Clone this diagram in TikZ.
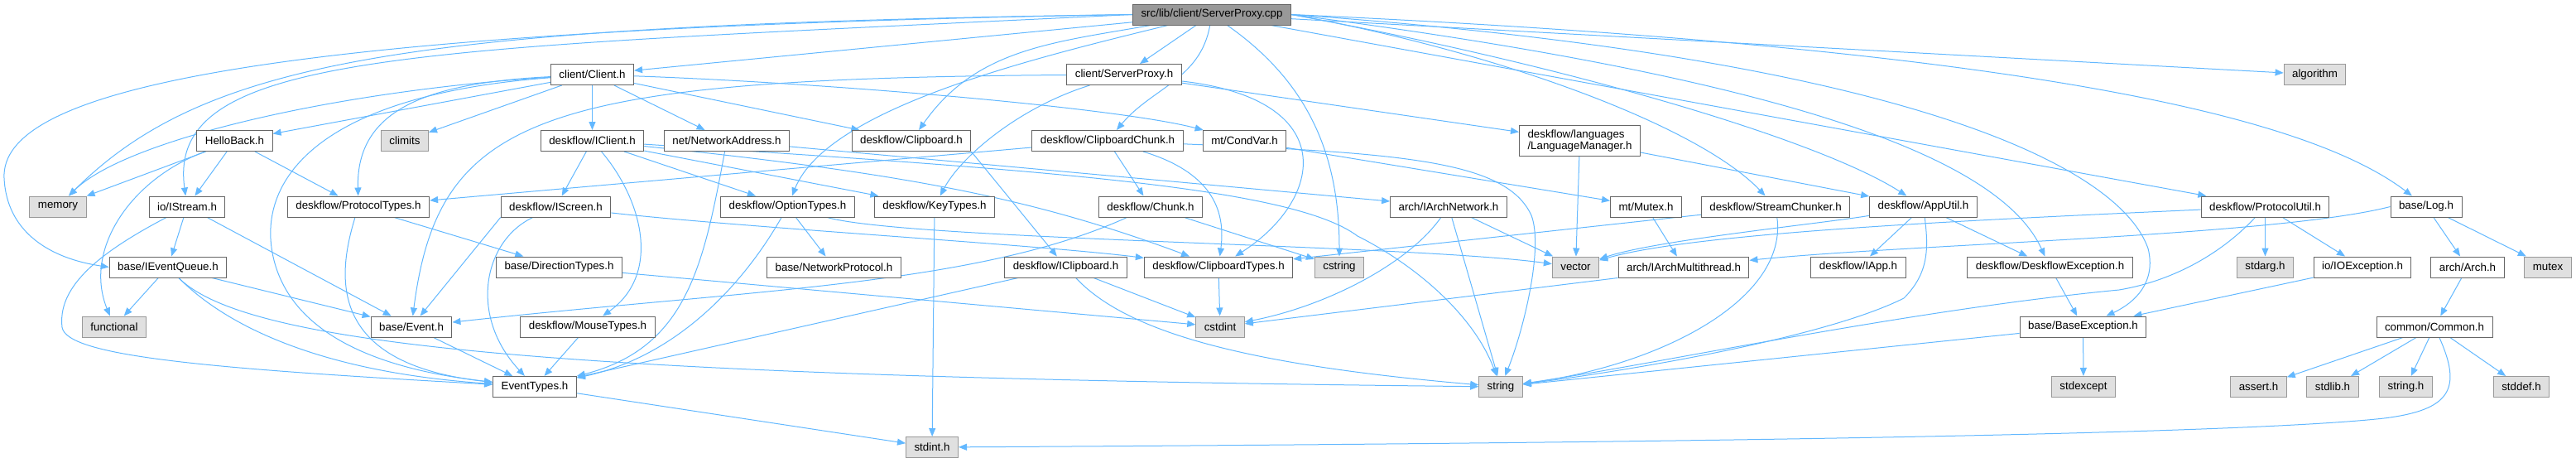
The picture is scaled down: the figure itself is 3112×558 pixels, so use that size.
\documentclass[tikz,border=0pt]{standalone}
\usepackage{fontspec}
\setmainfont{Liberation Sans}
\usepackage{xcolor}
\usetikzlibrary{arrows.meta,backgrounds}
\definecolor{EdgeBlue}{HTML}{63B8FF}
\definecolor{NodeLine}{HTML}{666666}
\definecolor{SysLine}{HTML}{999999}
\definecolor{SysFill}{HTML}{E0E0E0}
\definecolor{RootFill}{HTML}{999999}

\begin{document}
\begin{tikzpicture}[
  x=0.75pt, y=0.75pt,
  font=\fontsize{10}{10.5}\selectfont, >={Triangle[length=7.5pt,width=6pt]},
  hdr/.style={draw=NodeLine,fill=white,line width=0.75pt,minimum height=18.75pt,
              inner xsep=7.5pt,inner ysep=1pt},
  sys/.style={hdr,draw=SysLine,fill=SysFill},
  src/.style={hdr,fill=RootFill},
  inc/.style={->,EdgeBlue,line width=0.75pt},
]
\useasboundingbox (0,0) rectangle (3112,-558);

\node[src] (root) at (1464,-17.5) {src/lib/client/ServerProxy.cpp};

\node[hdr] (client) at (715.5,-90) {client/Client.h};
\node[hdr] (spH)    at (1358,-90)  {client/ServerProxy.h};
\node[sys] (algo)   at (2796.5,-90) {algorithm};

\node[hdr] (hello)     at (283.5,-170)  {HelloBack.h};
\node[sys] (climits)   at (489,-170)    {climits};
\node[hdr] (iclient)   at (715.5,-170)  {deskflow/IClient.h};
\node[hdr] (netaddr)   at (878,-170)    {net/NetworkAddress.h};
\node[hdr] (clip)      at (1101,-170)   {deskflow/Clipboard.h};
\node[hdr] (clipchunk) at (1338,-170)   {deskflow/ClipboardChunk.h};
\node[hdr] (condvar)   at (1503.5,-170) {mt/CondVar.h};
\node[hdr,align=left,inner ysep=4pt] (langmgr) at (1908.5,-170) {deskflow/languages\\/LanguageManager.h};

\node[sys] (memory)        at (70,-249.5)     {memory};
\node[hdr] (istream)       at (226,-249.5)    {io/IStream.h};
\node[hdr] (prototypes)    at (433,-249.5)    {deskflow/ProtocolTypes.h};
\node[hdr] (iscreen)       at (671.5,-249.5)  {deskflow/IScreen.h};
\node[hdr] (optiontypes)   at (951.5,-249.5)  {deskflow/OptionTypes.h};
\node[hdr] (keytypes)      at (1129,-249.5)   {deskflow/KeyTypes.h};
\node[hdr] (chunk)         at (1390,-249.5)   {deskflow/Chunk.h};
\node[hdr] (iarchnet)      at (1750,-249.5)   {arch/IArchNetwork.h};
\node[hdr] (mutexh)        at (1988.5,-249.5) {mt/Mutex.h};
\node[hdr] (streamchunker) at (2145,-249.5)   {deskflow/StreamChunker.h};
\node[hdr] (apputil)       at (2323.5,-249.5) {deskflow/AppUtil.h};
\node[hdr] (protoutil)     at (2736.5,-249.5) {deskflow/ProtocolUtil.h};
\node[hdr] (logh)          at (2931,-249.5)   {base/Log.h};

\node[hdr] (ieventqueue) at (203,-322.5)    {base/IEventQueue.h};
\node[hdr] (dirtypes)    at (675.5,-322.5)  {base/DirectionTypes.h};
\node[hdr] (netproto)    at (1007.5,-322.5) {base/NetworkProtocol.h};
\node[hdr] (iclipboard)  at (1287.5,-322.5) {deskflow/IClipboard.h};
\node[hdr] (cliptypes)   at (1472,-322.5)   {deskflow/ClipboardTypes.h};
\node[sys] (cstring)     at (1618,-322.5)   {cstring};
\node[sys] (vector)      at (1903.5,-322.5) {vector};
\node[hdr] (iarchmt)     at (2034,-322.5)   {arch/IArchMultithread.h};
\node[hdr] (iapp)        at (2245,-322.5)   {deskflow/IApp.h};
\node[hdr] (deskexc)     at (2476.5,-322.5) {deskflow/DeskflowException.h};
\node[sys] (stdarg)      at (2736.5,-322.5) {stdarg.h};
\node[hdr] (ioexc)       at (2854,-322.5)   {io/IOException.h};
\node[hdr] (arch)        at (2981,-322.5)   {arch/Arch.h};
\node[sys] (mutex)       at (3078,-322.5)   {mutex};

\node[sys] (functional) at (138,-394.5)    {functional};
\node[hdr] (event)      at (497,-394.5)    {base/Event.h};
\node[hdr] (mousetypes) at (710,-394.5)    {deskflow/MouseTypes.h};
\node[sys] (cstdint)    at (1474,-394.5)   {cstdint};
\node[hdr] (baseexc)    at (2516.5,-394.5) {base/BaseException.h};
\node[hdr] (common)     at (2941,-394.5)   {common/Common.h};

\node[hdr] (eventtypes) at (646,-467)    {EventTypes.h};
\node[sys] (string)     at (1813,-467)   {string};
\node[sys] (stdexcept)  at (2517,-467)   {stdexcept};
\node[sys] (assert)     at (2728.5,-467) {assert.h};
\node[sys] (stdlib)     at (2818,-467)   {stdlib.h};
\node[sys] (stringh)    at (2906.5,-467) {string.h};
\node[sys] (stddef)     at (3046,-467)   {stddef.h};

\node[sys] (stdint) at (1126,-540) {stdint.h};

\begin{scope}[on background layer]
\foreach \a/\b in {root/spH,root/client,root/protoutil,root/algo,
  client/hello,client/climits,client/iclient,client/netaddr,client/clip,
  spH/langmgr,hello/memory,hello/istream,hello/prototypes,
  istream/ieventqueue,istream/event,ieventqueue/functional,ieventqueue/event,
  prototypes/dirtypes,iclient/iscreen,iclient/optiontypes,iclient/keytypes,
  netaddr/iarchnet,clipchunk/prototypes,clipchunk/chunk,condvar/mutexh,
  langmgr/vector,langmgr/apputil,optiontypes/netproto,keytypes/stdint,
  chunk/cstring,iarchnet/string,iarchnet/vector,mutexh/iarchmt,
  streamchunker/cliptypes,apputil/iapp,apputil/deskexc,protoutil/stdarg,
  protoutil/ioexc,logh/arch,logh/mutex,ioexc/baseexc,deskexc/baseexc,
  baseexc/stdexcept,baseexc/string,arch/common,common/assert,common/stdlib,
  common/stringh,common/stddef,eventtypes/stdint,event/eventtypes,
  mousetypes/eventtypes,dirtypes/cstdint,iclipboard/cstdint,
  iclipboard/eventtypes,cliptypes/cstdint}
  \draw[inc] (\a) -- (\b);

\draw[inc] (root.west) .. controls (300,-35) and (0,-110) .. (5,-215)
  .. controls (8,-280) and (60,-312) .. (ieventqueue.west);
\draw[inc] (root.west) .. controls (500,-30) and (250,-70) .. (memory);
\draw[inc] (root.west) .. controls (500,-60) and (200,-60) .. (istream);
\draw[inc] (root) to[out=190,in=55] (clip);
\draw[inc] (root) to[out=-100,in=50] (clipchunk);
\draw[inc] (root) .. controls (1250,-70) and (1000,-130) .. (optiontypes);
\draw[inc] (root) to[out=-35,in=90] (cstring);
\draw[inc] (root.east) .. controls (1800,-60) and (2050,-150) .. (streamchunker);
\draw[inc] (root.east) .. controls (1900,-80) and (2200,-170) .. (apputil);
\draw[inc] (root.east) .. controls (2200,-100) and (2420,-200) .. (deskexc);
\draw[inc] (root.east) .. controls (2300,-70) and (2560,-200) .. (2595,-300)
  .. controls (2605,-340) and (2580,-365) .. (baseexc);
\draw[inc] (root.east) .. controls (2500,-60) and (2800,-150) .. (logh);

\draw[inc] (client) .. controls (400,-110) and (150,-170) .. (memory);
\draw[inc] (client) .. controls (520,-100) and (430,-130) .. (prototypes);
\draw[inc] (client) .. controls (380,-115) and (310,-220) .. (330,-310)
  .. controls (350,-400) and (450,-445) .. (eventtypes);
\draw[inc] (client) .. controls (1000,-100) and (1350,-130) .. (condvar);

\draw[inc] (spH) .. controls (1230,-130) and (1160,-190) .. (keytypes);
\draw[inc] (spH) .. controls (650,-95) and (530,-140) .. (event);
\draw[inc] (spH) .. controls (1620,-120) and (1600,-240) .. (cliptypes);

\draw[inc] (hello) .. controls (160,-215) and (100,-300) .. (functional);
\draw[inc] (istream) .. controls (110,-310) and (70,-350) .. (75,-395)
  .. controls (80,-430) and (250,-445) .. (eventtypes);
\draw[inc] (ieventqueue) .. controls (280,-400) and (400,-450) .. (eventtypes);
\draw[inc] (ieventqueue) .. controls (300,-420) and (700,-455) .. (string);
\draw[inc] (prototypes) .. controls (405,-340) and (400,-440) .. (eventtypes);

\draw[inc] (iclient) .. controls (775,-240) and (800,-330) .. (mousetypes);
\draw[inc] (iclient) .. controls (1100,-210) and (1250,-240) .. (cliptypes);
\draw[inc] (iclient) .. controls (1250,-205) and (1560,-225) .. (1640,-285)
  .. controls (1710,-320) and (1780,-380) .. (string);
\draw[inc] (netaddr) .. controls (850,-320) and (830,-420) .. (eventtypes);
\draw[inc] (clip.south east) -- (iclipboard);
\draw[inc] (clipchunk) .. controls (1470,-210) and (1480,-260) .. (cliptypes);
\draw[inc] (clipchunk) .. controls (1700,-185) and (1820,-195) .. (1850,-260)
  .. controls (1865,-300) and (1840,-400) .. (string);

\draw[inc] (iscreen.south west) -- (event);
\draw[inc] (iscreen) .. controls (585,-290) and (565,-380) .. (eventtypes);
\draw[inc] (iscreen) .. controls (900,-275) and (1250,-295) .. (cliptypes);
\draw[inc] (optiontypes) .. controls (900,-340) and (820,-430) .. (eventtypes);
\draw[inc] (optiontypes) .. controls (1100,-290) and (1700,-295) .. (vector);
\draw[inc] (chunk) .. controls (1180,-345) and (900,-350) .. (event);

\draw[inc] (iarchnet) .. controls (1700,-320) and (1600,-370) .. (cstdint);
\draw[inc] (iarchmt.south west) -- (cstdint);
\draw[inc] (streamchunker) .. controls (2160,-360) and (2010,-440) .. (string);
\draw[inc] (apputil) .. controls (2200,-270) and (2000,-290) .. (vector);
\draw[inc] (apputil) .. controls (2330,-300) and (2330,-330) .. (2300,-360)
  .. controls (2200,-410) and (1950,-450) .. (string);
\draw[inc] (protoutil) .. controls (2400,-265) and (2050,-280) .. (vector);
\draw[inc] (protoutil) .. controls (2680,-310) and (2620,-340) .. (2560,-350)
  .. controls (2300,-375) and (2000,-440) .. (string);
\draw[inc] (logh.west) .. controls (2750,-285) and (2300,-295) .. (iarchmt);
\draw[inc] (iclipboard) .. controls (1360,-400) and (1500,-440) .. (string);

\draw[inc] (common) .. controls (2975,-470) and (2960,-495) .. (2880,-505)
  .. controls (2700,-525) and (2000,-535) .. (stdint);
\end{scope}
\end{tikzpicture}
\end{document}
